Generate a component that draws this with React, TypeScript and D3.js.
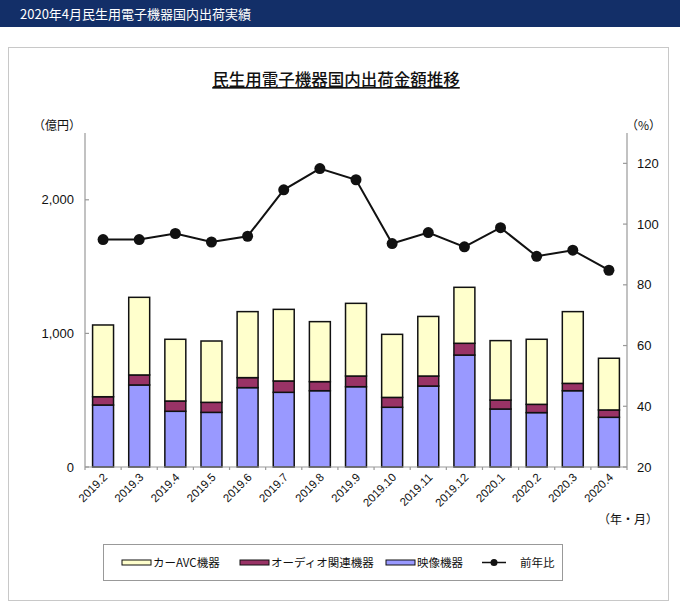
import React from 'react';
import * as d3 from 'd3';

const categories = ['2019.2', '2019.3', '2019.4', '2019.5', '2019.6', '2019.7', '2019.8', '2019.9', '2019.10', '2019.11', '2019.12', '2020.1', '2020.2', '2020.3', '2020.4'];
const video = [464, 614, 417, 409, 594, 559, 571, 601, 447, 606, 838, 434, 407, 571, 372];
const audio = [62, 75, 77, 75, 75, 85, 68, 80, 74, 75, 88, 67, 62, 55, 55];
const carAvc = [537, 581, 462, 459, 494, 536, 449, 544, 472, 446, 419, 445, 487, 537, 387];
const yoy = [94.9, 94.9, 96.9, 94.1, 96.0, 111.3, 118.3, 114.6, 93.6, 97.2, 92.5, 98.8, 89.4, 91.4, 84.8];
const leftTicks = [0, 1000, 2000];
const rightTicks = [20, 40, 60, 80, 100, 120];

const seriesKeys = ['video', 'audio', 'carAvc'];
const colors: Record<string, string> = { video: '#9999ff', audio: '#993366', carAvc: '#ffffcc' };

const jp = '"Noto Sans CJK JP", sans-serif';
const num = '"Liberation Sans", Arial, sans-serif';

export default function App() {
  const W = 680, H = 612;
  const margin = { top: 133, right: 53, bottom: 145, left: 85 };
  const x0 = margin.left, x1 = W - margin.right;
  const yTop = margin.top, yBot = H - margin.bottom;

  const x = d3.scaleBand<string>().domain(categories).range([x0, x1]).paddingInner(0.42).paddingOuter(0.21);
  const yL = d3.scaleLinear().domain([0, 2500]).range([yBot, yTop]);
  const yR = d3.scaleLinear().domain([20, 130]).range([yBot, yTop]);

  const rows = categories.map((c, i) => ({ cat: c, video: video[i], audio: audio[i], carAvc: carAvc[i] }));
  const stacked = d3.stack<any>().keys(seriesKeys)(rows);

  const line = d3.line<number>()
    .x((_, i) => (x(categories[i]) ?? 0) + x.bandwidth() / 2)
    .y(d => yR(d));

  const step = (x1 - x0) / categories.length;
  const boundaries = d3.range(categories.length + 1).map(i => x0 + i * step);

  const legendItems = [
    { label: 'カーAVC機器', key: 'carAvc', x: 122 },
    { label: 'オーディオ関連機器', key: 'audio', x: 240 },
    { label: '映像機器', key: 'video', x: 386 },
  ];

  return (
    <svg width={W} height={H} style={{ position: 'absolute', left: 0, top: 0, background: '#fff' }}>
      {/* header */}
      <rect x={0} y={0} width={W} height={27} fill="#132f68" />
      <text x={20} y={18.5} fill="#fff" fontFamily={jp} fontSize={13}>2020年4月民生用電子機器国内出荷実績</text>

      {/* panel */}
      <rect x={8.5} y={47.5} width={660} height={553} fill="#fff" stroke="#c8c8c8" />

      {/* title */}
      <text x={336} y={86} textAnchor="middle" fontFamily={jp} fontSize={16.5} fontWeight={500} fill="#111" textDecoration="underline">民生用電子機器国内出荷金額推移</text>

      {/* bars */}
      {stacked.map(s => (
        <g key={s.key} fill={colors[s.key]} stroke="#111" strokeWidth={1.5}>
          {s.map((d, i) => (
            <rect key={i} x={x(categories[i])} y={yL(d[1])} width={x.bandwidth()} height={yL(d[0]) - yL(d[1])} />
          ))}
        </g>
      ))}

      {/* axes */}
      <g stroke="#999" strokeWidth={1.2}>
        <line x1={x0} x2={x0} y1={yTop} y2={yBot} />
        <line x1={x1} x2={x1} y1={yTop} y2={yBot} />
        <line x1={x0} x2={x1} y1={yBot} y2={yBot} />
        {leftTicks.map(t => <line key={t} x1={x0} x2={x0 + 4} y1={yL(t)} y2={yL(t)} />)}
        {rightTicks.map(t => <line key={t} x1={x1 - 4} x2={x1} y1={yR(t)} y2={yR(t)} />)}
        {boundaries.map((b, i) => <line key={i} x1={b} x2={b} y1={yBot} y2={yBot + 3} />)}
      </g>

      {/* axis labels */}
      {leftTicks.map(t => (
        <text key={t} x={x0 - 11} y={yL(t)} dy="0.35em" textAnchor="end" fontFamily={num} fontSize={13} fill="#111">{d3.format(',')(t)}</text>
      ))}
      {rightTicks.map(t => (
        <text key={t} x={x1 + 10} y={yR(t)} dy="0.35em" textAnchor="start" fontFamily={num} fontSize={13} fill="#111">{t}</text>
      ))}
      <text x={33} y={130} fontFamily={jp} fontSize={12} fill="#111">（億円）</text>
      <text x={626} y={130} fontFamily={jp} fontSize={12} fill="#111">（%）</text>

      {/* x labels */}
      {categories.map(c => {
        const cx = (x(c) ?? 0) + x.bandwidth() / 2 + 5;
        return (
          <text key={c} transform={`translate(${cx},${yBot + 11}) rotate(-45)`} textAnchor="end" fontFamily={num} fontSize={11.5} fill="#111">{c}</text>
        );
      })}
      <text x={598} y={524} fontFamily={jp} fontSize={12} fill="#111">（年・月）</text>

      {/* line */}
      <path d={line(yoy) ?? ''} fill="none" stroke="#111" strokeWidth={2} />
      {yoy.map((v, i) => (
        <circle key={i} cx={(x(categories[i]) ?? 0) + x.bandwidth() / 2} cy={yR(v)} r={5.5} fill="#111" />
      ))}

      {/* legend */}
      <rect x={103.5} y={544.5} width={459} height={36} fill="#fff" stroke="#999" />
      {legendItems.map(it => (
        <g key={it.key}>
          <rect x={it.x} y={560} width={29} height={5} fill={colors[it.key]} stroke="#111" strokeWidth={1} />
          <text x={it.x + 31} y={566.5} fontFamily={jp} fontSize={11.5} fill="#111">{it.label}</text>
        </g>
      ))}
      <line x1={482} x2={506} y1={562.5} y2={562.5} stroke="#111" strokeWidth={1.5} />
      <circle cx={494} cy={562.5} r={3.5} fill="#111" />
      <text x={520} y={566.5} fontFamily={jp} fontSize={11.5} fill="#111">前年比</text>
    </svg>
  );
}
